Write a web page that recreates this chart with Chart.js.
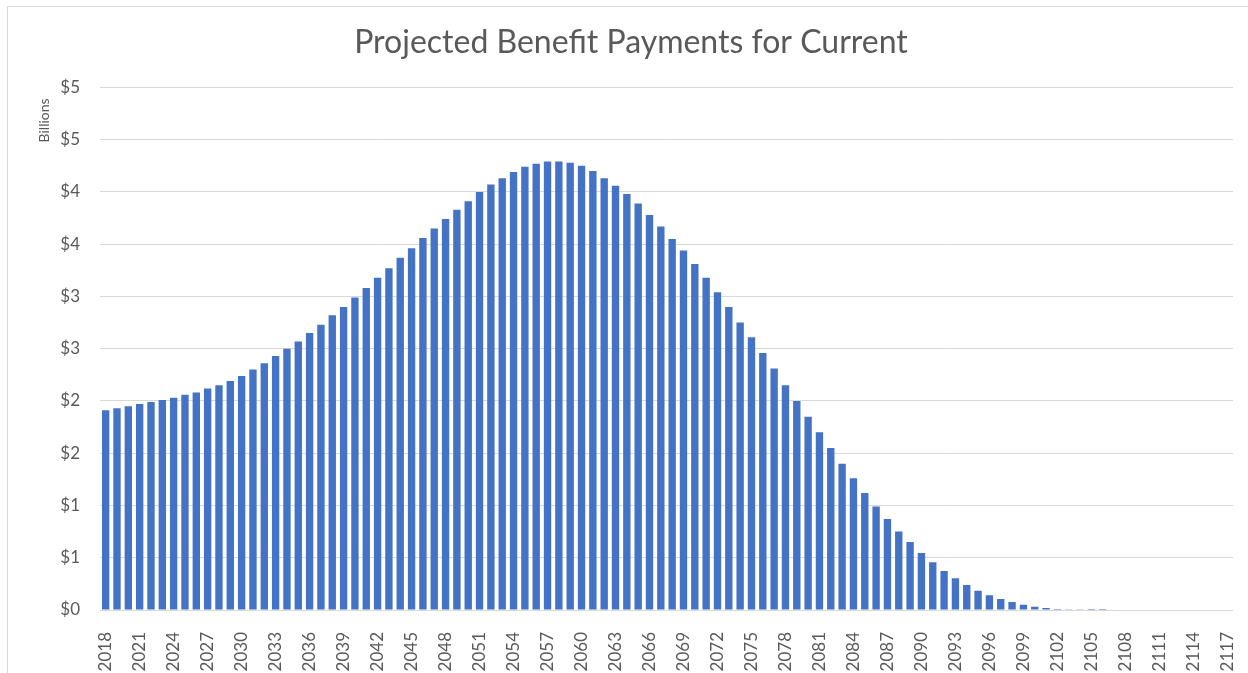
<!DOCTYPE html>
<html>
<head>
<meta charset="utf-8">
<title>Projected Benefit Payments for Current</title>
<script src="https://cdn.jsdelivr.net/npm/chart.js@4"></script>
<style>
  html, body { margin: 0; padding: 0; background: #fff; }
  #frame {
    position: absolute; left: 7px; top: 6px; width: 1260px; height: 700px;
    border-left: 1px solid #d9d9d9; border-top: 1px solid #d9d9d9;
  }
  #wrap { position: absolute; left: 0; top: 0; width: 1248px; height: 673px; }
</style>
</head>
<body>
<div id="frame"></div>
<div id="wrap"><canvas id="benefitChart" width="1248" height="673"></canvas></div>
<script>
// projected benefit payments, billions of dollars, one bar per year

const years = [
  2018, 2019, 2020, 2021, 2022, 2023, 2024, 2025, 2026, 2027,
  2028, 2029, 2030, 2031, 2032, 2033, 2034, 2035, 2036, 2037,
  2038, 2039, 2040, 2041, 2042, 2043, 2044, 2045, 2046, 2047,
  2048, 2049, 2050, 2051, 2052, 2053, 2054, 2055, 2056, 2057,
  2058, 2059, 2060, 2061, 2062, 2063, 2064, 2065, 2066, 2067,
  2068, 2069, 2070, 2071, 2072, 2073, 2074, 2075, 2076, 2077,
  2078, 2079, 2080, 2081, 2082, 2083, 2084, 2085, 2086, 2087,
  2088, 2089, 2090, 2091, 2092, 2093, 2094, 2095, 2096, 2097,
  2098, 2099, 2100, 2101, 2102, 2103, 2104, 2105, 2106, 2107,
  2108, 2109, 2110, 2111, 2112, 2113, 2114, 2115, 2116, 2117
];

const payments = [
  1.91, 1.93, 1.95, 1.97, 1.99, 2.01, 2.03, 2.06, 2.08, 2.12,
  2.15, 2.19, 2.24, 2.30, 2.36, 2.43, 2.50, 2.57, 2.65, 2.73,
  2.82, 2.90, 2.99, 3.08, 3.18, 3.27, 3.37, 3.46, 3.56, 3.65,
  3.74, 3.83, 3.91, 4.00, 4.07, 4.13, 4.19, 4.24, 4.27, 4.29,
  4.29, 4.28, 4.25, 4.20, 4.13, 4.06, 3.98, 3.89, 3.78, 3.67,
  3.55, 3.44, 3.31, 3.18, 3.04, 2.90, 2.75, 2.61, 2.46, 2.31,
  2.15, 2.00, 1.85, 1.70, 1.55, 1.40, 1.26, 1.12, 0.99, 0.87,
  0.75, 0.65, 0.545, 0.456, 0.373, 0.303, 0.239, 0.185, 0.140, 0.105,
  0.076, 0.051, 0.032, 0.019, 0.010, 0.006, 0.003, 0.001, 0.0005, 0,
  0, 0, 0, 0, 0, 0, 0, 0, 0, 0
];

// Excel's "$#,##0" format rounds the half steps, hence the repeats
const yTickValues = [0, 0.5, 1, 1.5, 2, 2.5, 3, 3.5, 4, 4.5, 5];
const yTickLabels = ['$0', '$1', '$1', '$2', '$2', '$3', '$3', '$4', '$4', '$5', '$5'];

const textColor = '#595959';
const gridColor = '#d9d9d9';
const barColor = '#4472c4';

// "Billions" display-unit label sits near the top of the value axis
const unitLabel = {
  id: 'unitLabel',
  afterDraw(chart) {
    const ctx = chart.ctx;
    const area = chart.chartArea;
    ctx.save();
    ctx.translate(area.left - 56, area.top + 33);
    ctx.rotate(-Math.PI / 2);
    ctx.font = '14px Lato';
    ctx.fillStyle = textColor;
    ctx.textAlign = 'center';
    ctx.textBaseline = 'middle';
    ctx.fillText('Billions', 0, 0);
    ctx.restore();
  }
};

new Chart(document.getElementById('benefitChart'), {
  type: 'bar',
  data: {
    labels: years,
    datasets: [{
      label: 'Benefit payments',
      data: payments,
      backgroundColor: barColor,
      borderWidth: 0,
      barPercentage: 0.65,
      categoryPercentage: 1.0
    }]
  },
  options: {
    responsive: false,
    animation: false,
    layout: { padding: { left: 29, right: 15, top: 0, bottom: 0 } },
    plugins: {
      legend: { display: false },
      tooltip: { enabled: false },
      title: {
        display: true,
        text: 'Projected Benefit Payments for Current',
        color: textColor,
        font: { family: 'Lato', size: 32, weight: 'normal' },
        padding: { top: 23, bottom: 26 }
      }
    },
    scales: {
      x: {
        grid: { display: false, drawTicks: false },
        border: { display: false },
        afterFit: function (axis) {
          axis.height = 63;
          axis.paddingLeft = 0;
          axis.paddingRight = 0;
        },
        ticks: {
          color: textColor,
          font: { family: 'Lato', size: 17 },
          autoSkip: false,
          minRotation: 90,
          maxRotation: 90,
          padding: 22,
          callback: function (value, index) {
            return index % 3 === 0 ? years[index] : '';
          }
        }
      },
      y: {
        min: 0,
        max: 5,
        grid: { color: gridColor, lineWidth: 1, drawTicks: false },
        border: { display: false },
        afterFit: function (axis) {
          axis.width = 71;
        },
        afterBuildTicks: function (axis) {
          axis.ticks = yTickValues.map(v => ({ value: v }));
        },
        ticks: {
          color: textColor,
          font: { family: 'Lato', size: 17 },
          padding: 20,
          callback: function (value, index) {
            return yTickLabels[index];
          }
        }
      }
    }
  },
  plugins: [unitLabel]
});
</script>
</body>
</html>
